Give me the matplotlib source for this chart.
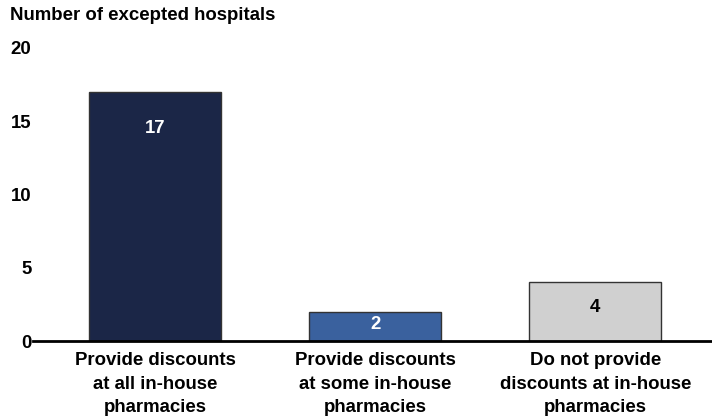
import matplotlib.pyplot as plt

categories = ["Provide discounts\nat all in-house\npharmacies",
              "Provide discounts\nat some in-house\npharmacies",
              "Do not provide\ndiscounts at in-house\npharmacies"]
values = [17, 2, 4]
bar_colors = ["#1b2647", "#3a619e", "#d0d0d0"]
label_colors = ["white", "white", "black"]
yticks = [0, 5, 10, 15, 20]

plt.rcParams['font.family'] = ['Liberation Sans', 'DejaVu Sans']
plt.rcParams['font.weight'] = 'bold'
fs = 13.4

fig = plt.figure(figsize=(7.12, 4.16), dpi=100)
ax = fig.add_axes([0.046, 0.180, 0.954, 0.705])

x = list(range(len(values)))
ax.bar(x, values, width=0.6, color=bar_colors, edgecolor="#333333", linewidth=1, zorder=2)

# value labels inside the bars
offsets = [-37, -13, -25]
for xi, v, c, off in zip(x, values, label_colors, offsets):
    ax.annotate(str(v), (xi, v), xytext=(0, off), textcoords="offset pixels",
                ha="center", va="center", color=c, fontsize=fs, fontweight="bold")

ax.set_xlim(-0.555, 2.53)
ax.set_ylim(0, 20)
ax.set_yticks(yticks)
ax.set_yticklabels([str(t) for t in yticks], fontsize=fs, fontweight="bold")
ax.tick_params(axis="y", length=0, pad=1)
ax.set_xticks(x)
ax.set_xticklabels(categories, fontsize=fs, fontweight="bold", linespacing=1.5)
ax.tick_params(axis="x", length=0, pad=8)

for s in ["top", "right", "left"]:
    ax.spines[s].set_visible(False)
ax.spines["bottom"].set_linewidth(2)
ax.spines["bottom"].set_zorder(3)

fig.text(10 / 712, 1 - 16 / 416, "Number of excepted hospitals", ha="left", va="center",
         fontsize=fs, fontweight="bold")

fig.savefig("out.png", dpi=100)
